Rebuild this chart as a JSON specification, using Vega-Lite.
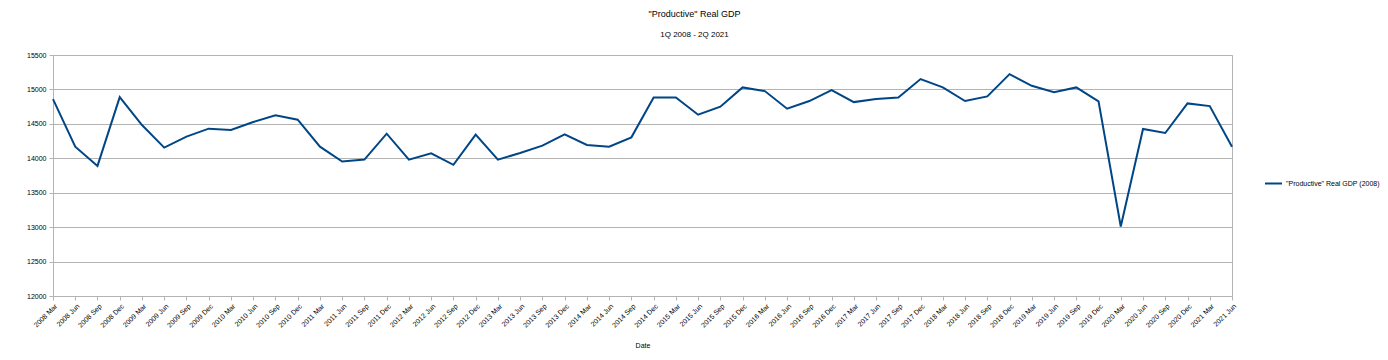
{
  "$schema": "https://vega.github.io/schema/vega-lite/v6.json",
  "width": 1179,
  "height": 241,
  "autosize": {"type": "none"},
  "padding": {"left": 53, "top": 55, "right": 156, "bottom": 64},
  "background": "white",
  "title": {
    "text": "\"Productive\" Real GDP",
    "subtitle": "1Q 2008 - 2Q 2021",
    "anchor": "middle",
    "dx": 52,
    "offset": 12,
    "font": "Liberation Sans",
    "fontSize": 9,
    "fontWeight": "normal",
    "color": "#000000",
    "subtitleFont": "Liberation Sans",
    "subtitleFontSize": 8,
    "subtitleColor": "#000000",
    "subtitlePadding": 12
  },
  "config": {
    "view": {"stroke": "#b3b3b3", "strokeWidth": 1},
    "axis": {
      "labelFont": "Liberation Sans",
      "titleFont": "Liberation Sans",
      "labelFontSize": 7,
      "titleFontSize": 7,
      "titleFontWeight": "normal",
      "labelColor": "#000000",
      "titleColor": "#000000",
      "domainColor": "#b3b3b3",
      "tickColor": "#b3b3b3",
      "gridColor": "#b3b3b3",
      "tickSize": 4
    },
    "legend": {
      "labelFont": "Liberation Sans",
      "labelFontSize": 7,
      "labelColor": "#000000"
    }
  },
  "data": {
    "values": [
      {"date": "2008 Mar", "value": 14860},
      {"date": "2008 Jun", "value": 14169},
      {"date": "2008 Sep", "value": 13889},
      {"date": "2008 Dec", "value": 14889},
      {"date": "2009 Mar", "value": 14483},
      {"date": "2009 Jun", "value": 14155},
      {"date": "2009 Sep", "value": 14314},
      {"date": "2009 Dec", "value": 14430},
      {"date": "2010 Mar", "value": 14411},
      {"date": "2010 Jun", "value": 14527},
      {"date": "2010 Sep", "value": 14623},
      {"date": "2010 Dec", "value": 14560},
      {"date": "2011 Mar", "value": 14169},
      {"date": "2011 Jun", "value": 13952},
      {"date": "2011 Sep", "value": 13981},
      {"date": "2011 Dec", "value": 14357},
      {"date": "2012 Mar", "value": 13981},
      {"date": "2012 Jun", "value": 14072},
      {"date": "2012 Sep", "value": 13905},
      {"date": "2012 Dec", "value": 14343},
      {"date": "2013 Mar", "value": 13981},
      {"date": "2013 Jun", "value": 14077},
      {"date": "2013 Sep", "value": 14184},
      {"date": "2013 Dec", "value": 14348},
      {"date": "2014 Mar", "value": 14193},
      {"date": "2014 Jun", "value": 14169},
      {"date": "2014 Sep", "value": 14304},
      {"date": "2014 Dec", "value": 14884},
      {"date": "2015 Mar", "value": 14884},
      {"date": "2015 Jun", "value": 14633},
      {"date": "2015 Sep", "value": 14749},
      {"date": "2015 Dec", "value": 15029},
      {"date": "2016 Mar", "value": 14976},
      {"date": "2016 Jun", "value": 14720},
      {"date": "2016 Sep", "value": 14831},
      {"date": "2016 Dec", "value": 14990},
      {"date": "2017 Mar", "value": 14816},
      {"date": "2017 Jun", "value": 14860},
      {"date": "2017 Sep", "value": 14884},
      {"date": "2017 Dec", "value": 15150},
      {"date": "2018 Mar", "value": 15029},
      {"date": "2018 Jun", "value": 14831},
      {"date": "2018 Sep", "value": 14898},
      {"date": "2018 Dec", "value": 15222},
      {"date": "2019 Mar", "value": 15053},
      {"date": "2019 Jun", "value": 14961},
      {"date": "2019 Sep", "value": 15029},
      {"date": "2019 Dec", "value": 14826},
      {"date": "2020 Mar", "value": 13010},
      {"date": "2020 Jun", "value": 14425},
      {"date": "2020 Sep", "value": 14367},
      {"date": "2020 Dec", "value": 14797},
      {"date": "2021 Mar", "value": 14758},
      {"date": "2021 Jun", "value": 14169}
    ]
  },
  "transform": [{"calculate": "'\"Productive\"  Real GDP (2008)'", "as": "series"}],
  "mark": {"type": "line", "strokeWidth": 2},
  "encoding": {
    "x": {
      "field": "date",
      "type": "ordinal",
      "sort": null,
      "scale": {"type": "point", "padding": 0},
      "axis": {
        "title": "Date",
        "labelAngle": -45,
        "labelAlign": "right",
        "labelBaseline": "top",
        "labelPadding": 2,
        "titlePadding": 13,
        "grid": false,
        "labelOverlap": false
      }
    },
    "y": {
      "field": "value",
      "type": "quantitative",
      "scale": {"domain": [12000, 15500], "zero": false, "nice": false},
      "axis": {
        "title": null,
        "values": [12000, 12500, 13000, 13500, 14000, 14500, 15000, 15500],
        "format": "d",
        "grid": true,
        "labelPadding": 3
      }
    },
    "color": {
      "field": "series",
      "type": "nominal",
      "scale": {"range": ["#004586"]},
      "legend": {
        "title": null,
        "orient": "none",
        "legendX": 1211,
        "legendY": 119,
        "symbolType": "stroke",
        "symbolSize": 289,
        "symbolStrokeWidth": 2,
        "labelOffset": 3
      }
    }
  }
}
